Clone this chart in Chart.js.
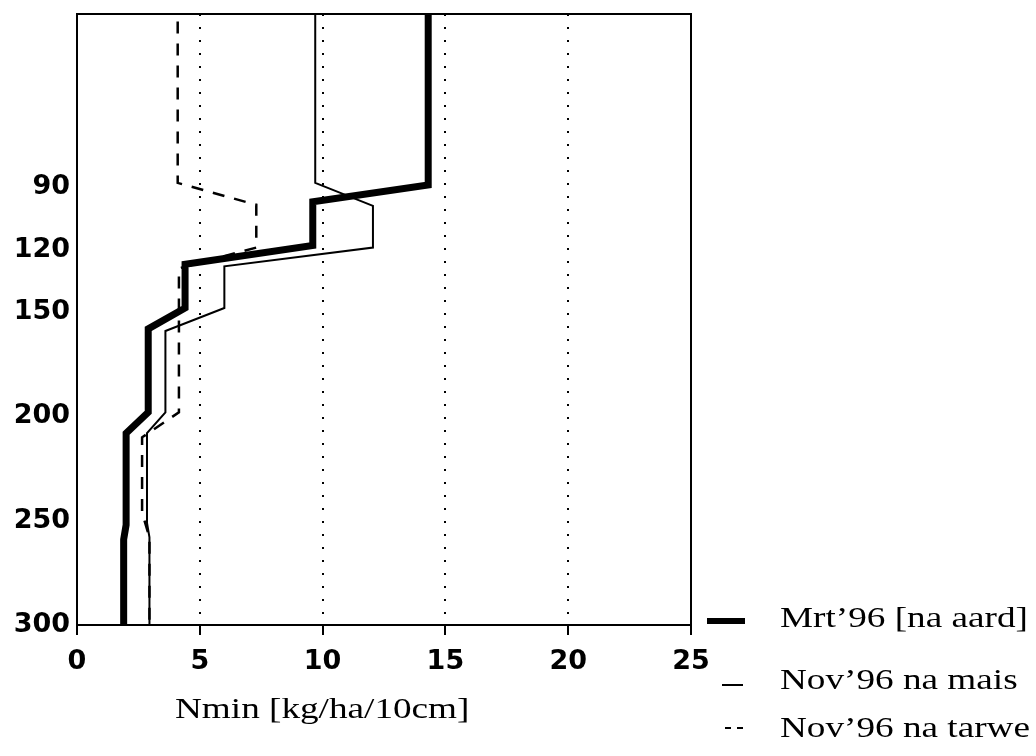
<!DOCTYPE html>
<html>
<head>
<meta charset="utf-8">
<script src="https://cdn.jsdelivr.net/npm/chart.js@4.4.1/dist/chart.umd.min.js"></script>
<style>
  html, body { margin: 0; padding: 0; background: #ffffff; }
  #wrap { position: relative; width: 1036px; height: 756px; overflow: hidden; background: #fff; }
  #c { position: absolute; left: 0; top: 0; }
  .txt { position: absolute; font-family: "Liberation Serif", "Times New Roman", serif; font-size: 30px; line-height: 30px; color: #000; white-space: nowrap; transform-origin: 0 0; transform: scaleX(1.24); }
  .sw { position: absolute; background: #000; }
</style>
</head>
<body>
<div id="wrap">
  <canvas id="c" width="1036" height="756"></canvas>
  <div class="txt" style="left:175px; top:693px;">Nmin [kg/ha/10cm]</div>
  <div class="sw" style="left:707px; top:618px; width:38px; height:6px;"></div>
  <div class="txt" style="left:780px; top:602px;">Mrt’96 [na aard]</div>
  <div class="sw" style="left:722px; top:684px; width:21px; height:2px;"></div>
  <div class="txt" style="left:780px; top:664px;">Nov’96 na mais</div>
  <div class="sw" style="left:725px; top:727px; width:6px; height:2px;"></div>
  <div class="sw" style="left:737px; top:727px; width:6px; height:2px;"></div>
  <div class="txt" style="left:780px; top:712px;">Nov’96 na tarwe</div>
</div>
<script>
// Depth profiles (x = Nmin kg/ha/10cm, y = depth cm)
const mrtN      = [14.3, 14.3, 9.6, 9.6, 4.4, 4.4, 2.9, 2.9, 2.0, 2.0, 1.9, 1.9];
const mrtDepth  = [0,    89,   97,  118, 127, 148, 158, 198, 208, 252, 259, 300];
const maisN     = [9.7, 9.7, 12.05, 12.05, 6.0, 6.0, 3.6, 3.6, 2.85, 2.85, 2.95, 2.95];
const maisDepth = [0,   88,  99,    119,   128, 148, 159, 198, 208,  251,  258,  300];
const tarweN     = [4.1, 4.1, 7.3,  7.3, 4.15, 4.15, 2.65, 2.65, 2.95, 2.95];
const tarweDepth = [0,   88,  98.5, 119, 129,  198,  210,  246,  258,  300];
const xTicks = [0, 5, 10, 15, 20, 25];
const yTicks = [90, 120, 150, 200, 250, 300];
const seriesNames = ["Mrt’96 [na aard]", "Nov’96 na mais", "Nov’96 na tarwe"];

const pts = (xs, ys) => xs.map((v, i) => ({ x: v, y: ys[i] }));

const frame = {
  id: 'frame',
  afterDatasetsDraw(chart) {
    const a = chart.chartArea, ctx = chart.ctx;
    ctx.save();
    ctx.strokeStyle = '#000';
    ctx.lineWidth = 2;
    ctx.strokeRect(a.left, a.top, a.right - a.left, a.bottom - a.top);
    ctx.restore();
  }
};

const tickFont = { family: "DejaVu Sans", weight: "bold", size: 27 };

new Chart(document.getElementById('c'), {
  type: 'scatter',
  data: {
    datasets: [
      { label: seriesNames[0], data: pts(mrtN, mrtDepth), showLine: true, borderColor: '#000', borderWidth: 7, pointRadius: 0, borderJoinStyle: 'miter', clip: 0 },
      { label: seriesNames[1], data: pts(maisN, maisDepth), showLine: true, borderColor: '#000', borderWidth: 2, pointRadius: 0, borderJoinStyle: 'miter', clip: 0 },
      { label: seriesNames[2], data: pts(tarweN, tarweDepth), showLine: true, borderColor: '#000', borderWidth: 2.5, borderDash: [12, 10], pointRadius: 0, borderJoinStyle: 'miter', clip: 0 }
    ]
  },
  options: {
    responsive: false,
    animation: false,
    layout: { padding: { top: 14, right: 345, left: 0, bottom: 0 } },
    plugins: { legend: { display: false }, tooltip: { enabled: false } },
    scales: {
      x: {
        type: 'linear', min: 0, max: 25,
        afterBuildTicks: s => { s.ticks = xTicks.map(v => ({ value: v })); },
        afterFit: s => { s.height = 131; s.paddingLeft = 0; s.paddingRight = 0; },
        ticks: { color: '#000', font: tickFont, padding: 11, maxRotation: 0 },
        grid: {
          color: c => (c.tick && (c.tick.value === 0 || c.tick.value === 25)) ? 'rgba(0,0,0,0)' : '#000',
          lineWidth: 2, tickColor: '#000', tickLength: 10, tickWidth: 2, tickBorderDash: []
        },
        border: { display: true, color: '#000', width: 2, dash: [2, 11] }
      },
      y: {
        type: 'linear', min: 7, max: 300, reverse: true,
        afterBuildTicks: s => { s.ticks = yTicks.map(v => ({ value: v })); },
        afterFit: s => { s.width = 77; s.paddingTop = 0; s.paddingBottom = 0; },
        ticks: { color: '#000', font: tickFont, padding: 7 },
        grid: { display: false, drawTicks: false, drawOnChartArea: false },
        border: { display: true, color: '#000', width: 2 }
      }
    }
  },
  plugins: [frame]
});
</script>
</body>
</html>
